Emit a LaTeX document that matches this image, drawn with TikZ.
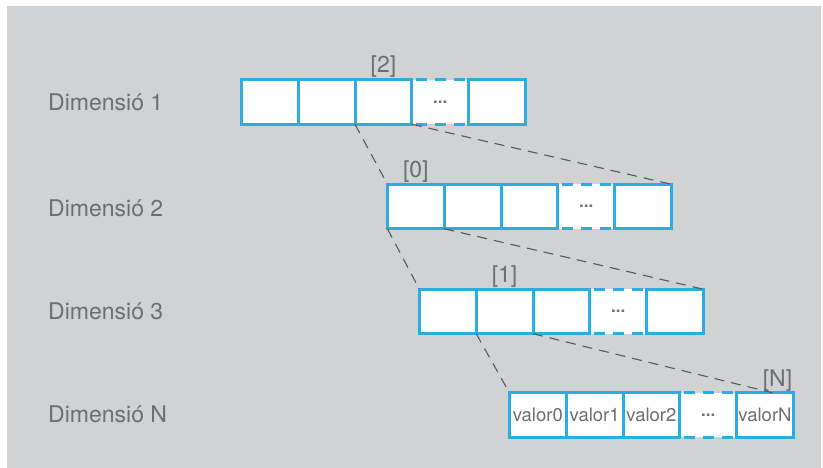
\documentclass[tikz,border=0pt]{standalone}
\usepackage{fontspec}
\setmainfont{TeX Gyre Heros}
\usetikzlibrary{positioning}
\definecolor{cellblue}{HTML}{2BACE3}
\definecolor{bggray}{HTML}{D1D2D4}
\definecolor{txtgray}{HTML}{6D6E71}
\definecolor{linkgray}{HTML}{58595B}

\begin{document}
\begin{tikzpicture}[x=1pt,y=-1pt,
    cell/.style={draw=cellblue,line width=3pt,fill=white,minimum width=56.8pt,minimum height=44.5pt,inner sep=0pt,outer sep=0pt,text=txtgray,font=\fontsize{18.5}{21}\selectfont},
    gapcell/.style={fill=white,minimum width=56.8pt,minimum height=44.5pt,inner sep=0pt,outer sep=0pt,text=txtgray,font=\fontsize{17}{20}\selectfont\bfseries},
    gapline/.style={draw=cellblue,line width=3pt,dash pattern=on 11pt off 8pt,dash phase=-4pt},
    dimlabel/.style={anchor=west,inner sep=0pt,text=txtgray,font=\fontsize{23}{27}\selectfont},
    idx/.style={inner sep=2pt,text=txtgray,font=\fontsize{23}{27}\selectfont},
    link/.style={draw=linkgray,line width=1.1pt,dash pattern=on 10pt off 7pt}]
  \useasboundingbox (0,0) rectangle (823,468);
  \fill[bggray] (7,6) rectangle (821,468);

  % dimension names
  \node[dimlabel] (lab1) at (48,102) {Dimensió 1};
  \node[dimlabel] (lab2) at (48,208) {Dimensió 2};
  \node[dimlabel] (lab3) at (48,311) {Dimensió 3};
  \node[dimlabel] (labN) at (48,414) {Dimensió N};

  % row 1
  \node[gapcell] (d1g) at (440.2,102) {...};
  \draw[gapline] (d1g.north west) -- (d1g.north east) (d1g.south west) -- (d1g.south east);
  \node[cell,left=0pt of d1g] (d1c3) {};
  \node[cell,left=0pt of d1c3] (d1c2) {};
  \node[cell,left=0pt of d1c2] (d1c1) {};
  \node[cell,right=0pt of d1g] (d1c5) {};
  \node[idx,above=0pt of d1c3] (idx1) {[2]};

  % row 2
  \node[gapcell] (d2g) at (586.2,206.5) {...};
  \draw[gapline] (d2g.north west) -- (d2g.north east) (d2g.south west) -- (d2g.south east);
  \node[cell,left=0pt of d2g] (d2c3) {};
  \node[cell,left=0pt of d2c3] (d2c2) {};
  \node[cell,left=0pt of d2c2] (d2c1) {};
  \node[cell,right=0pt of d2g] (d2c5) {};
  \node[idx,above=0pt of d2c1] (idx2) {[0]};

  % row 3
  \node[gapcell] (d3g) at (618.2,311.5) {...};
  \draw[gapline] (d3g.north west) -- (d3g.north east) (d3g.south west) -- (d3g.south east);
  \node[cell,left=0pt of d3g] (d3c3) {};
  \node[cell,left=0pt of d3c3] (d3c2) {};
  \node[cell,left=0pt of d3c2] (d3c1) {};
  \node[cell,right=0pt of d3g] (d3c5) {};
  \node[idx,above=0pt of d3c2] (idx3) {[1]};

  % row N
  \node[gapcell] (d4g) at (708.2,415) {...};
  \draw[gapline] (d4g.north west) -- (d4g.north east) (d4g.south west) -- (d4g.south east);
  \node[cell,left=0pt of d4g] (d4c3) {valor2};
  \node[cell,left=0pt of d4c3] (d4c2) {valor1};
  \node[cell,left=0pt of d4c2] (d4c1) {valor0};
  \node[cell,right=0pt of d4g] (d4c5) {valorN};
  \node[idx,above left=-1pt and -1pt of d4c5.north east] (idx4) {[N]};
  \coordinate[left=21pt of d4c5.north east] (tipN);

  % links between dimensions
  \draw[link] (d1c3.south west) -- (d2c1.north west);
  \draw[link] (d1c3.south east) -- (d2c5.north east);
  \draw[link] (d2c1.south west) -- (d3c1.north west);
  \draw[link] (d2c1.south east) -- (d3c5.north east);
  \draw[link] (d3c2.south west) -- (d4c1.north west);
  \draw[link] (d3c2.south east) -- (tipN);
\end{tikzpicture}
\end{document}
